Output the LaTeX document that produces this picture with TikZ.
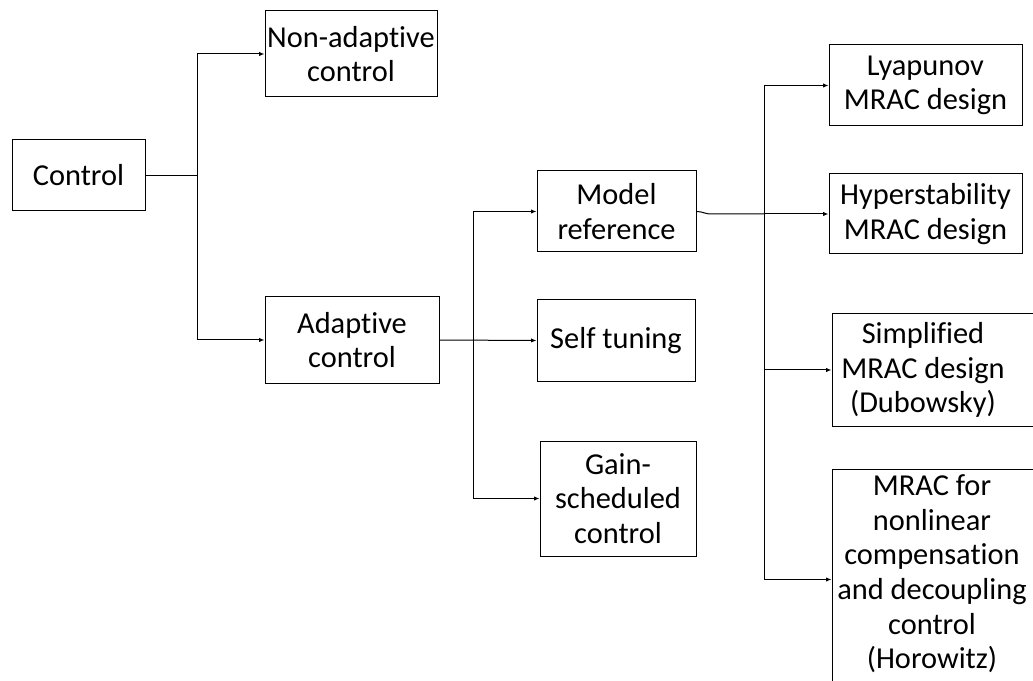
\documentclass[tikz,border=0pt]{standalone}
\usepackage{fontspec}
\setmainfont[Ligatures=NoCommon]{Carlito}
\usetikzlibrary{arrows.meta}
\begin{document}
\begin{tikzpicture}[x=0.75pt,y=-0.75pt,
  lbl/.style={font=\fontsize{22.8}{26}\selectfont, align=center, inner sep=0pt},
  box/.style={lbl, draw=black, line width=0.75pt},
  link/.style={draw=black, line width=0.75pt},
  arr/.style={link, -{Latex[length=4pt,width=3.2pt]}}]
\clip (0,0) rectangle (1033,681);

% first level
\node[box, minimum width=133*0.75pt, minimum height=71*0.75pt] (control) at (78.5,175.5) {Control};
\node[box, minimum width=172*0.75pt, minimum height=86*0.75pt] (nonad) at (351,54) {Non-adaptive\\control};
\node[box, minimum width=174*0.75pt, minimum height=86*0.75pt] (adapt) at (352,340) {Adaptive\\control};

% adaptive schemes
\node[box, minimum width=159*0.75pt, minimum height=81*0.75pt] (model) at (616.5,211.5) {Model\\reference};
\node[box, minimum width=158*0.75pt, minimum height=81*0.75pt] (self) at (616,340.5) {Self tuning};
\node[box, minimum width=156*0.75pt, minimum height=115*0.75pt] (gain) at (618,498.5) {Gain-\\scheduled\\control};

% MRAC designs
\node[box, minimum width=193*0.75pt, minimum height=81*0.75pt] (lyap) at (925.5,85.5) {Lyapunov\\MRAC design};
\node[box, minimum width=193*0.75pt, minimum height=80*0.75pt] (hyper) at (925.5,214) {Hyperstability\\MRAC design};
\node[box, minimum width=240*0.75pt, minimum height=112*0.75pt] (simp) at (952,370) {};
\node[lbl] (simptext) at (923,370) {Simplified\\MRAC design\\(Dubowsky)};
\node[box, minimum width=240*0.75pt, minimum height=221*0.75pt] (mrac) at (952,579.5) {};
\node[lbl] (mractext) at (932,574) {MRAC for\\nonlinear\\compensation\\and decoupling\\control\\(Horowitz)};

% branching points
\coordinate (j1) at (197,175.5);
\coordinate (j2) at (473,340);
\coordinate (j3) at (764,214);

% connectors
\draw[link] (control.east) -- (j1);
\draw[arr] (j1) |- (nonad.west);
\draw[arr] (j1) |- (adapt.west);

\draw[arr] (adapt.east) -- (self.west);
\draw[arr] (j2) |- (model.west);
\draw[arr] (j2) |- (gain.west);

\draw[link] (model.east) .. controls (703,211.5) and (704,214) .. (712,214) -- (j3);
\draw[arr] (j3) |- (lyap.west);
\draw[arr] (j3) -- (hyper.west);
\draw[arr] (j3) |- (simp.west);
\draw[arr] (j3) |- (mrac.west);
\end{tikzpicture}
\end{document}
